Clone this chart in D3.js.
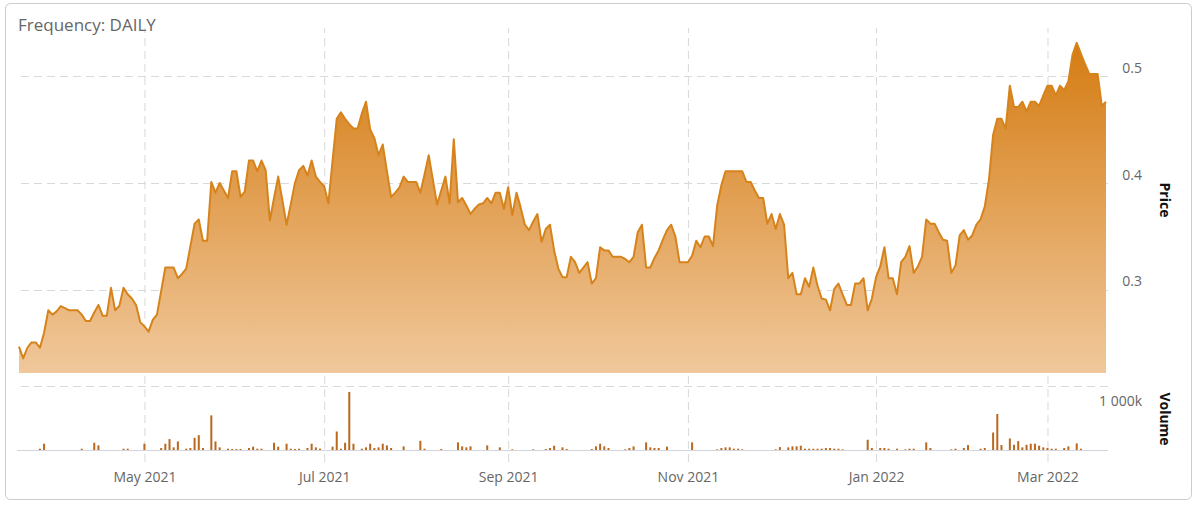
<!DOCTYPE html>
<html><head><meta charset="utf-8">
<script src="https://cdn.jsdelivr.net/npm/d3@7/dist/d3.min.js"></script>
<style>
html,body{margin:0;padding:0;background:#fff;}
svg{display:block;font-family:"Open Sans",sans-serif;}
</style></head><body>
<svg id="chart" width="1198" height="508"></svg>
<script>
// ---------- data ----------
const startDate = "2021-03-22";          // first trading day shown
const frequencyLabel = "Frequency: DAILY";
const priceTitle = "Price";
const volumeTitle = "Volume";

const prices = [
0.247,0.236,0.246,0.251,0.251,0.246,0.260,0.281,0.277,0.280,
0.285,0.283,0.281,0.281,0.281,0.277,0.271,0.271,0.279,0.286,
0.276,0.276,0.302,0.281,0.285,0.302,0.296,0.292,0.286,0.270,
0.266,0.261,0.272,0.277,0.299,0.321,0.321,0.321,0.311,0.315,
0.320,0.341,0.362,0.366,0.346,0.346,0.401,0.391,0.400,0.393,
0.386,0.411,0.411,0.387,0.392,0.421,0.421,0.411,0.421,0.412,
0.365,0.386,0.406,0.384,0.361,0.380,0.400,0.412,0.416,0.407,
0.421,0.406,0.401,0.397,0.381,0.421,0.460,0.466,0.460,0.455,
0.451,0.451,0.465,0.476,0.450,0.442,0.426,0.436,0.411,0.387,
0.391,0.396,0.406,0.401,0.401,0.401,0.391,0.408,0.426,0.403,
0.380,0.393,0.406,0.381,0.441,0.382,0.386,0.379,0.371,0.376,
0.380,0.381,0.386,0.381,0.391,0.391,0.376,0.396,0.370,0.391,
0.377,0.361,0.356,0.364,0.371,0.345,0.357,0.361,0.337,0.320,
0.312,0.312,0.331,0.326,0.316,0.321,0.326,0.306,0.311,0.340,
0.337,0.337,0.331,0.331,0.331,0.329,0.326,0.331,0.354,0.361,
0.321,0.321,0.330,0.337,0.347,0.356,0.361,0.350,0.326,0.326,
0.326,0.332,0.346,0.340,0.350,0.350,0.341,0.379,0.398,0.411,
0.411,0.411,0.411,0.411,0.401,0.401,0.393,0.386,0.386,0.362,
0.371,0.357,0.371,0.361,0.311,0.316,0.296,0.296,0.311,0.303,
0.321,0.304,0.292,0.291,0.281,0.301,0.306,0.296,0.286,0.286,
0.306,0.306,0.311,0.281,0.292,0.312,0.322,0.340,0.311,0.311,
0.296,0.326,0.331,0.341,0.316,0.322,0.331,0.366,0.362,0.362,
0.354,0.347,0.346,0.316,0.323,0.351,0.356,0.347,0.351,0.361,
0.366,0.378,0.403,0.445,0.460,0.460,0.451,0.491,0.471,0.471,
0.476,0.467,0.476,0.476,0.472,0.482,0.491,0.491,0.482,0.491,
0.487,0.495,0.520,0.531,0.521,0.511,0.502,0.502,0.502,0.472,
0.476
];

// daily volume, thousands of shares
const volumesK = [
0,0,0,0,0,20,98,0,0,0,
0,0,0,0,0,20,0,0,113,72,
0,0,0,0,0,20,20,0,0,0,
98,0,0,0,31,98,170,41,134,0,
20,31,191,232,31,0,541,134,41,0,
20,15,15,15,0,31,52,20,20,0,
0,113,52,0,98,20,15,20,0,31,
98,41,20,0,0,52,289,20,113,907,
98,0,20,41,98,31,41,98,72,31,
0,0,57,0,0,0,144,20,0,0,
0,15,0,0,0,119,57,41,57,0,
0,0,72,0,0,41,0,0,10,0,
0,0,0,10,0,0,15,31,67,0,
41,15,0,0,0,0,0,15,57,98,
57,31,0,0,0,10,31,57,0,0,
119,41,31,31,0,52,0,0,0,0,
0,119,0,0,0,0,0,10,31,41,
41,20,20,10,0,0,0,0,0,0,
0,10,46,0,41,57,57,67,20,20,
20,20,20,31,31,20,20,10,0,0,
0,0,0,160,31,0,31,31,20,0,
20,0,10,20,20,0,0,119,31,0,
0,0,0,10,20,0,31,77,0,0,
20,31,0,273,562,77,0,180,82,139,
41,82,98,98,67,41,31,20,20,0,
31,57,0,103,20,0,0,0,0,0,
0
];

const tickMonths = ["2021-05","2021-07","2021-09","2021-11","2022-01","2022-03"];
const tickLabels = ["May 2021","Jul 2021","Sep 2021","Nov 2021","Jan 2022","Mar 2022"];
const priceTicks = [0.3, 0.4, 0.5];
const volumeTicks = [1000];

// ---------- trading days (weekdays) ----------
const N = prices.length;
const dates = [];
{
  const d = new Date(startDate + "T00:00:00");
  while (dates.length < N) {
    const wd = d.getDay();
    if (wd !== 0 && wd !== 6) dates.push(new Date(d));
    d.setDate(d.getDate() + 1);
  }
}
const fmtMonth = d3.timeFormat("%Y-%m");
const tickIdx = tickMonths.map(m => dates.findIndex(d => fmtMonth(d) === m));

// ---------- layout ----------
const W = 1198, H = 508;
const plotL = 17, plotR = 1108;
const priceTop = 28, priceBottom = 373;
const volTop = 386, volBottom = 450;

const svg = d3.select("#chart");

svg.append("rect")
  .attr("x", 5.5).attr("y", 3.5).attr("width", 1186).attr("height", 496)
  .attr("rx", 5).attr("fill", "#fff").attr("stroke", "#cccccc").attr("stroke-width", 1);

const x = d3.scaleLinear().domain([0, N - 1]).range([19, 1106]);
const yP = d3.scaleLinear().domain([0.2224, 0.5449]).range([priceBottom, priceTop]);
const yV = d3.scaleLinear().domain([0, 1000]).range([volBottom, volTop]);

const defs = svg.append("defs");
const grad = defs.append("linearGradient").attr("id", "areaGrad")
  .attr("gradientUnits", "userSpaceOnUse")
  .attr("x1", 0).attr("y1", yP(d3.max(prices))).attr("x2", 0).attr("y2", priceBottom);
grad.append("stop").attr("offset", "0%").attr("stop-color", "#d57c12");
grad.append("stop").attr("offset", "100%").attr("stop-color", "#f0c89c");

// ---------- grid ----------
const gridColor = "#d9d9d9";
const dash = "8,5";

// vertical grid
const gx = svg.append("g").attr("transform", `translate(0,462)`)
  .call(d3.axisBottom(x).tickValues(tickIdx).tickSize(-(462 - priceTop)).tickFormat(""));
gx.select(".domain").remove();
gx.selectAll("line").attr("stroke", gridColor).attr("stroke-dasharray", dash);

// horizontal price grid
const gyP = svg.append("g").attr("transform", `translate(${plotR},0)`)
  .call(d3.axisLeft(yP).tickValues(priceTicks).tickSize(plotR - plotL).tickFormat(""));
gyP.select(".domain").remove();
gyP.selectAll("line").attr("stroke", gridColor).attr("stroke-dasharray", dash);

// horizontal volume grid
const gyV = svg.append("g").attr("transform", `translate(${plotR},0)`)
  .call(d3.axisLeft(yV).tickValues(volumeTicks).tickSize(plotR - plotL).tickFormat(""));
gyV.select(".domain").remove();
gyV.selectAll("line").attr("stroke", gridColor).attr("stroke-dasharray", dash);

// ---------- price area ----------
const area = d3.area().x((d, i) => x(i)).y0(priceBottom).y1(d => yP(d));
const line = d3.line().x((d, i) => x(i)).y(d => yP(d));

svg.append("path").datum(prices).attr("d", area).attr("fill", "url(#areaGrad)");
svg.append("path").datum(prices).attr("d", line)
  .attr("fill", "none").attr("stroke", "#d6831c").attr("stroke-width", 2)
  .attr("stroke-linejoin", "round");

// ---------- volume ----------
svg.append("line").attr("x1", plotL).attr("x2", plotR)
  .attr("y1", volBottom + 0.5).attr("y2", volBottom + 0.5)
  .attr("stroke", "#d4d4dc").attr("stroke-width", 1);

svg.append("g").selectAll("rect").data(volumesK).join("rect")
  .attr("x", (d, i) => x(i) - 1)
  .attr("width", 2)
  .attr("y", d => yV(d))
  .attr("height", d => volBottom - yV(d))
  .attr("fill", "#b9681e");

// ---------- axes labels ----------
const ax = svg.append("g").attr("transform", `translate(0,0)`)
  .call(d3.axisBottom(x).tickValues(tickIdx).tickSize(0).tickFormat((d, i) => tickLabels[i]));
ax.select(".domain").remove();
ax.selectAll("text").attr("y", 482).attr("dy", null)
  .attr("font-family", "Open Sans").attr("font-size", 14).attr("fill", "#666");

const apy = svg.append("g").attr("transform", `translate(1142,0)`)
  .call(d3.axisRight(yP).tickValues(priceTicks).tickSize(0).tickFormat(d3.format(".1f")));
apy.select(".domain").remove();
apy.selectAll("text").attr("x", 0).attr("dy", null).attr("text-anchor", "end")
  .attr("transform", "translate(0,-4)")
  .attr("font-family", "Open Sans").attr("font-size", 14).attr("fill", "#666");

const fmtVol = v => d3.format(",")(v).replace(/,/g, " ") + "k";
const apv = svg.append("g").attr("transform", `translate(1142,0)`)
  .call(d3.axisRight(yV).tickValues(volumeTicks).tickSize(0).tickFormat(fmtVol));
apv.select(".domain").remove();
apv.selectAll("text").attr("x", 0).attr("dy", null).attr("text-anchor", "end")
  .attr("transform", "translate(0,19)")
  .attr("font-family", "Open Sans").attr("font-size", 14).attr("fill", "#666");

// axis titles
svg.append("text").attr("transform", "translate(1160,200) rotate(90)")
  .attr("text-anchor", "middle").attr("font-size", 14).attr("font-weight", "bold")
  .attr("fill", "#111").text(priceTitle);
svg.append("text").attr("transform", "translate(1160,419) rotate(90)")
  .attr("text-anchor", "middle").attr("font-size", 14).attr("font-weight", "bold")
  .attr("fill", "#111").text(volumeTitle);

// frequency label
svg.append("text").attr("x", 18).attr("y", 30.5)
  .attr("font-size", 17).attr("fill", "#666").text(frequencyLabel);
</script>
</body></html>
